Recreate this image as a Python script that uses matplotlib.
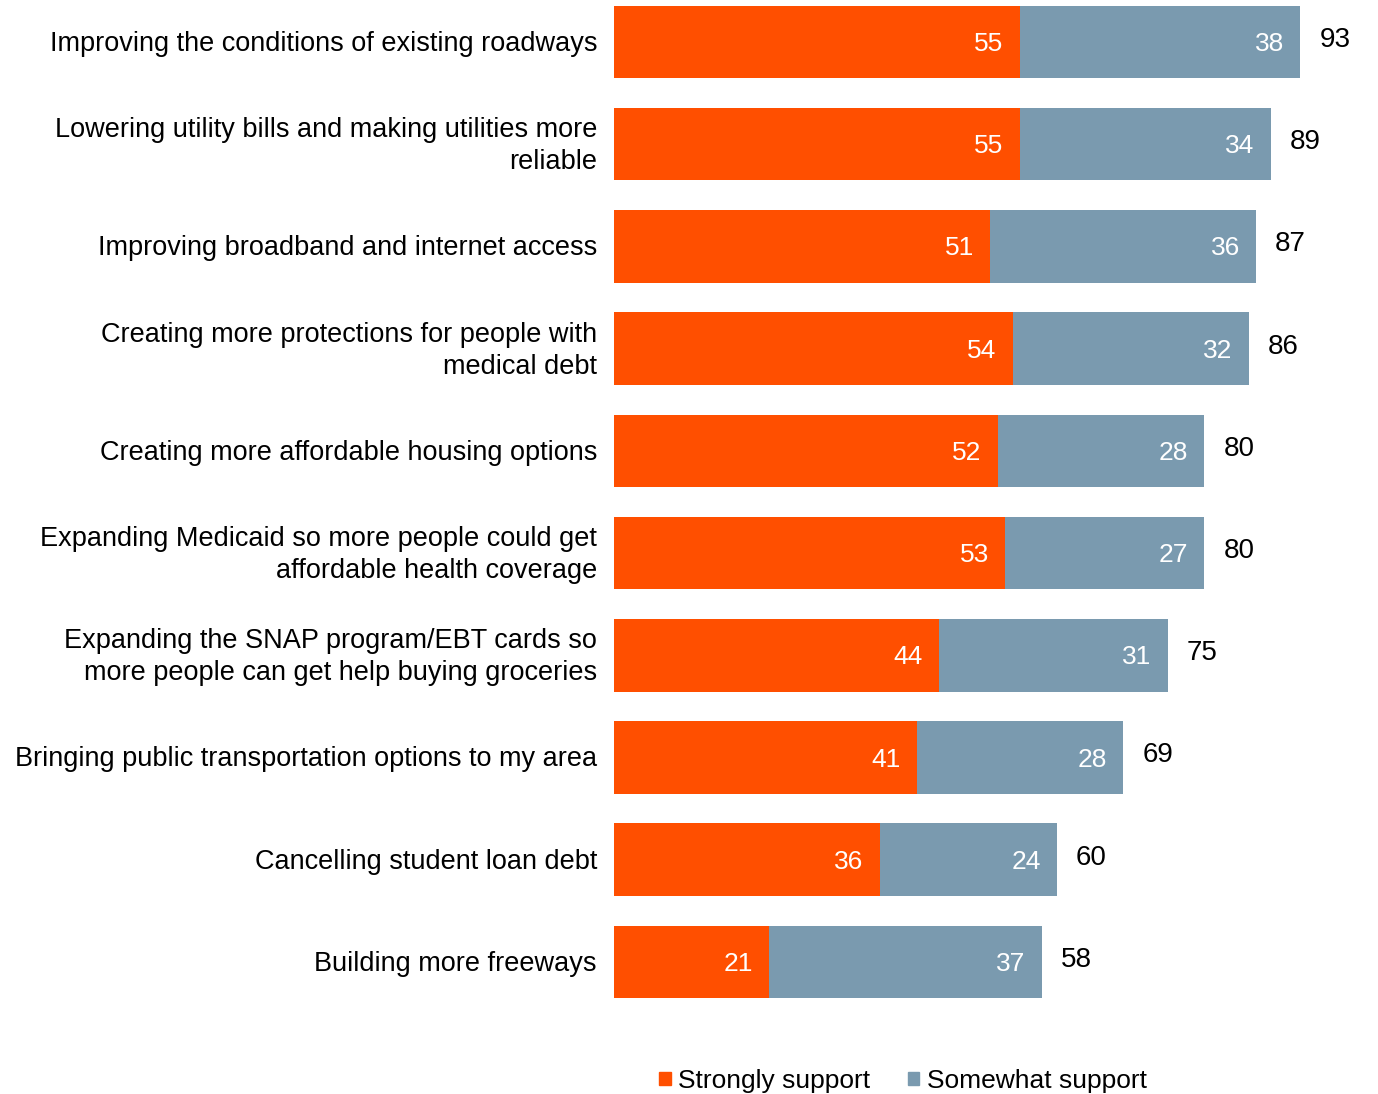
import matplotlib
matplotlib.use("Agg")
import matplotlib.pyplot as plt
from matplotlib.patches import Patch
from matplotlib.transforms import blended_transform_factory, ScaledTranslation

categories = [
    "Improving the conditions of existing roadways",
    "Lowering utility bills and making utilities more\nreliable",
    "Improving broadband and internet access",
    "Creating more protections for people with\nmedical debt",
    "Creating more affordable housing options",
    "Expanding Medicaid so more people could get\naffordable health coverage",
    "Expanding the SNAP program/EBT cards so\nmore people can get help buying groceries",
    "Bringing public transportation options to my area",
    "Cancelling student loan debt",
    "Building more freeways",
]
strongly = [55, 55, 51, 54, 52, 53, 44, 41, 36, 21]
somewhat = [38, 34, 36, 32, 28, 27, 31, 28, 24, 37]
totals = [93, 89, 87, 86, 80, 80, 75, 69, 60, 58]
series_names = ["Strongly support", "Somewhat support"]

c_strong = "#FF4F00"
c_some = "#7A9AAF"

plt.rcParams['font.family'] = ['Liberation Sans', 'DejaVu Sans']
fs = 19.5

fig = plt.figure(figsize=(13.78, 10.94), dpi=100)
ax = fig.add_axes([614/1378, 1 - 1010/1094, 738/1378, 1010/1094])

y = list(range(len(categories)))
ax.barh(y, strongly, height=0.71, color=c_strong)
ax.barh(y, somewhat, left=strongly, height=0.71, color=c_some)

for i in y:
    ax.text(strongly[i] - 2.2, i + 0.02, str(strongly[i]), ha='right', va='center',
            color='white', fontsize=19)
    ax.text(strongly[i] + somewhat[i] - 2.2, i + 0.02, str(somewhat[i]), ha='right', va='center',
            color='white', fontsize=19)
    ax.text(strongly[i] + somewhat[i] + 2.6, i - 0.02, str(totals[i]), ha='left', va='center',
            color='black', fontsize=20)

# category labels
trans = blended_transform_factory(ax.transAxes, ax.transData) + \
    ScaledTranslation(-17/100, -2/100, fig.dpi_scale_trans)
for i, lab in zip(y, categories):
    ax.text(0, i, lab, transform=trans, ha='right', va='center', fontsize=fs,
            linespacing=1.3, multialignment='right')

ax.set_xlim(0, 100)
ax.set_ylim(9.47, -0.41)
ax.set_yticks([])
ax.set_xticks([])
for s in ax.spines.values():
    s.set_visible(False)

handles = [Patch(color=c_strong), Patch(color=c_some)]
fig.legend(handles, series_names, loc='center', bbox_to_anchor=(903/1378, 1 - 1081/1094),
           ncol=2, frameon=False, fontsize=19, handlelength=0.42, handleheight=0.42,
           handletextpad=0.3, columnspacing=1.4)

fig.savefig("out.png", dpi=100)
